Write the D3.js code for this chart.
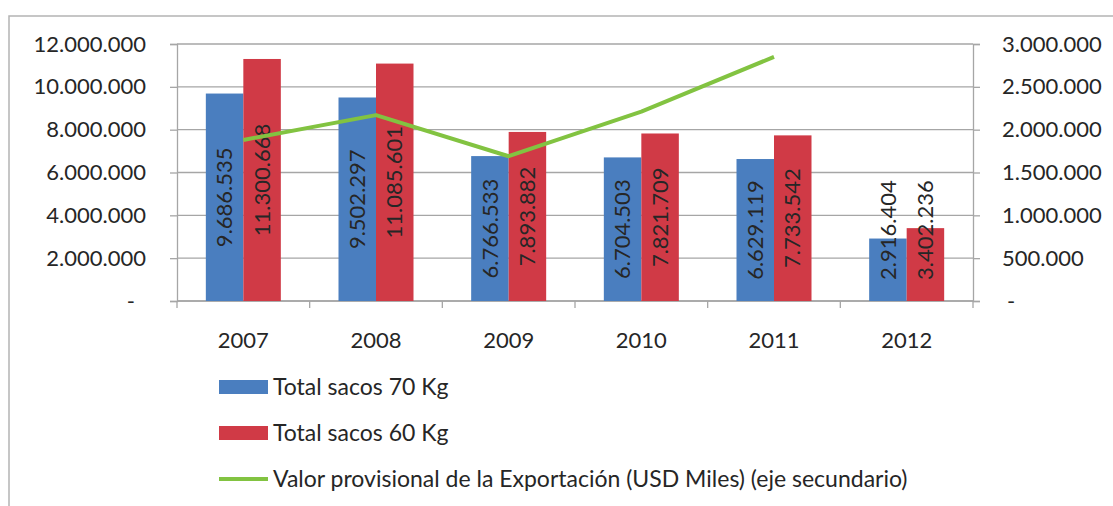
<!DOCTYPE html>
<html>
<head>
<meta charset="utf-8">
<script src="https://cdn.jsdelivr.net/npm/d3@7"></script>
<style>
  body { margin: 0; background: #fff; }
  svg text { font-family: Lato, "Open Sans", sans-serif; fill: #262626; }
</style>
</head>
<body>
<div id="chart"></div>
<script>
// data
const years = ['2007', '2008', '2009', '2010', '2011', '2012'];
const sacos70 = [9686535, 9502297, 6766533, 6704503, 6629119, 2916404];
const sacos60 = [11300668, 11085601, 7893882, 7821709, 7733542, 3402236];
const exportValue = [1880000, 2170000, 1690000, 2210000, 2850000, null];
const leftTicks = [0, 2000000, 4000000, 6000000, 8000000, 10000000, 12000000];
const rightTicks = [0, 500000, 1000000, 1500000, 2000000, 2500000, 3000000];
const seriesNames = ['Total sacos 70 Kg', 'Total sacos 60 Kg', 'Valor provisional de la Exportación (USD Miles) (eje secundario)'];

const colors = { blue: '#4a7ebf', red: '#d03a46', green: '#82c341', grid: '#a6a6a6' };

const width = 1113, height = 506;
const plot = { left: 177, right: 973, top: 44, bottom: 301 };

const svg = d3.select('#chart').append('svg')
  .attr('width', width)
  .attr('height', height);

// outer frame (only top and left edges show in the crop)
svg.append('path')
  .attr('d', `M9,${height} V16 H${width}`)
  .attr('fill', 'none')
  .attr('stroke', '#b4b4b4')
  .attr('stroke-width', 1.5);

const locale = d3.formatLocale({ decimal: ',', thousands: '.', grouping: [3], currency: ['', ''] });
const fmt = locale.format(',d');
const tickFmt = d => d === 0 ? '-' : fmt(d);

// scales
const x = d3.scaleBand().domain(years).range([plot.left, plot.right]);
const x1 = d3.scaleBand().domain(['s70', 's60']).range([0, 75]);
const yL = d3.scaleLinear().domain([0, 12000000]).range([plot.bottom, plot.top]);
const yR = d3.scaleLinear().domain([0, 3000000]).range([plot.bottom, plot.top]);

// gridlines
svg.append('g')
  .selectAll('line')
  .data(leftTicks)
  .join('line')
  .attr('x1', plot.left).attr('x2', plot.right)
  .attr('y1', d => yL(d)).attr('y2', d => yL(d))
  .attr('stroke', colors.grid)
  .attr('stroke-width', 1.3);

// left axis
const axL = svg.append('g')
  .attr('transform', `translate(${plot.left},0)`)
  .call(d3.axisLeft(yL).tickValues(leftTicks).tickFormat(tickFmt).tickSize(7).tickPadding(24));
// right axis
const axR = svg.append('g')
  .attr('transform', `translate(${plot.right},0)`)
  .call(d3.axisRight(yR).tickValues(rightTicks).tickFormat(tickFmt).tickSize(7).tickPadding(22));
// bottom axis, ticks on category boundaries
const axB = svg.append('g')
  .attr('transform', `translate(0,${plot.bottom})`)
  .call(d3.axisBottom(x).tickSize(0).tickPadding(31));
axB.selectAll('.cat-tick')
  .data(years.concat(['end']))
  .join('line')
  .attr('class', 'cat-tick')
  .attr('x1', (d, i) => plot.left + i * x.bandwidth())
  .attr('x2', (d, i) => plot.left + i * x.bandwidth())
  .attr('y1', 0).attr('y2', 7)
  .attr('stroke', colors.grid).attr('stroke-width', 1.3);

[axL, axR, axB].forEach(ax => {
  ax.select('.domain').attr('stroke', colors.grid).attr('stroke-width', 1.3);
  ax.selectAll('.tick line').attr('stroke', colors.grid).attr('stroke-width', 1.3);
  ax.selectAll('.tick text').style('font-size', '22px').attr('fill', '#262626');
});
axL.selectAll('.tick text').filter(d => d === 0).attr('dx', -11);
axR.selectAll('.tick text').filter(d => d === 0).attr('dx', 5);
axB.select('.domain').attr('d', `M${plot.left},0H${plot.right}`);

// bars
const groups = svg.append('g')
  .selectAll('g')
  .data(years.map((yr, i) => ({ yr, vals: [
    { key: 's70', v: sacos70[i], c: colors.blue },
    { key: 's60', v: sacos60[i], c: colors.red }
  ] })))
  .join('g')
  .attr('transform', d => `translate(${x(d.yr) + (x.bandwidth() - 75) / 2},0)`);

groups.selectAll('rect')
  .data(d => d.vals)
  .join('rect')
  .attr('x', d => x1(d.key))
  .attr('y', d => yL(d.v))
  .attr('width', x1.bandwidth())
  .attr('height', d => plot.bottom - yL(d.v))
  .attr('fill', d => d.c);

// rotated value labels, centred in bar but kept above the axis
groups.selectAll('text')
  .data(d => d.vals)
  .join('text')
  .style('font-size', '22px')
  .attr('text-anchor', 'middle')
  .text(d => fmt(d.v))
  .each(function (d) {
    const len = this.getComputedTextLength();
    const cx = x1(d.key) + x1.bandwidth() / 2;
    const cy = Math.min((yL(d.v) + plot.bottom) / 2, plot.bottom - 21 - len / 2);
    d3.select(this)
      .attr('transform', `translate(${cx},${cy}) rotate(-90)`)
      .attr('dy', '0.35em');
  });

// export value line (secondary axis)
const line = d3.line()
  .defined(d => d.v != null)
  .x(d => x(d.yr) + x.bandwidth() / 2)
  .y(d => yR(d.v));

svg.append('path')
  .datum(years.map((yr, i) => ({ yr, v: exportValue[i] })))
  .attr('d', line)
  .attr('fill', 'none')
  .attr('stroke', colors.green)
  .attr('stroke-width', 4)
  .attr('stroke-linejoin', 'round');

// legend
const legend = svg.append('g').attr('transform', 'translate(219,387)');
const items = legend.selectAll('g')
  .data(seriesNames)
  .join('g')
  .attr('transform', (d, i) => `translate(0,${i * 46})`);

items.filter((d, i) => i < 2)
  .append('rect')
  .attr('x', 0).attr('y', -7)
  .attr('width', 49).attr('height', 14)
  .attr('fill', (d, i) => i === 0 ? colors.blue : colors.red);

items.filter((d, i) => i === 2)
  .append('line')
  .attr('x1', 0).attr('x2', 49)
  .attr('stroke', colors.green)
  .attr('stroke-width', 4);

items.append('text')
  .attr('x', 54)
  .attr('dy', '0.35em')
  .style('font-size', '23px')
  .text(d => d);
</script>
</body>
</html>
